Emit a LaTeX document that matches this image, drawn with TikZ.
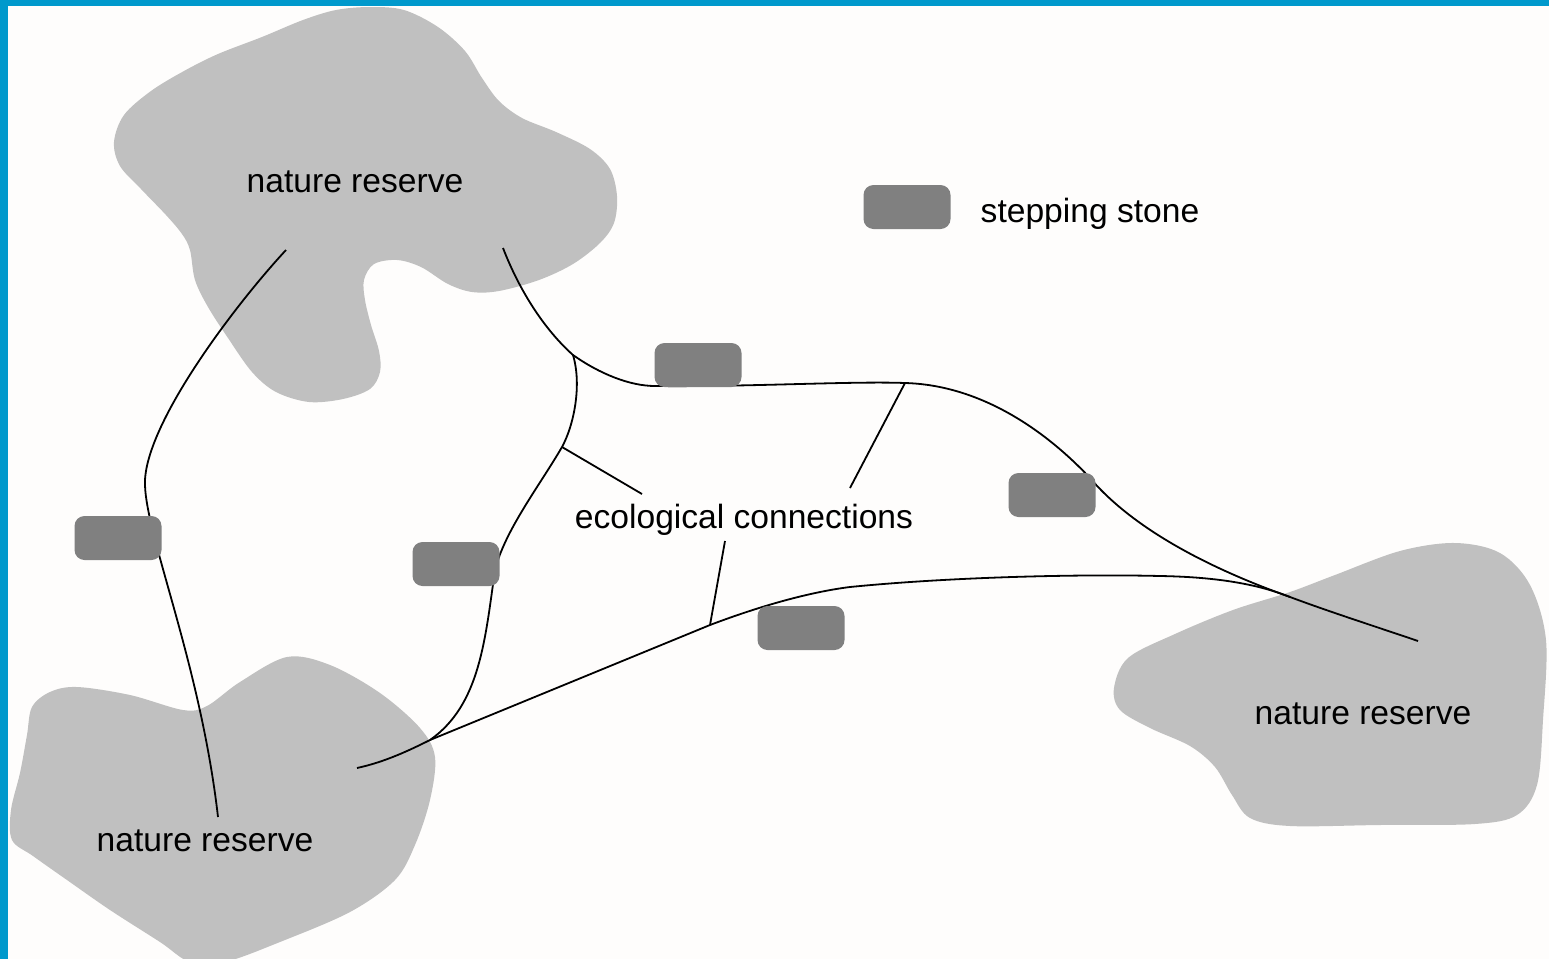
\documentclass[tikz,border=0pt]{standalone}
\usepackage{fontspec}
\setmainfont{Liberation Sans}
\definecolor{bluebar}{HTML}{0099CC}
\definecolor{blobgray}{HTML}{C0C0C0}
\definecolor{stonegray}{HTML}{808080}
\definecolor{paper}{HTML}{FEFDFC}
\begin{document}
\begin{tikzpicture}[x=0.5pt,y=-0.5pt,
  blob/.style={fill=blobgray, draw=none},
  stone/.style={fill=stonegray, draw=none, rounded corners=5pt, minimum width=43.5pt, minimum height=22pt, inner sep=0pt},
  txt/.style={font=\fontsize{16.8}{20}\selectfont, inner sep=0pt, anchor=base},
  conn/.style={draw=black, line width=0.9pt}]
\useasboundingbox (0,0) rectangle (1549,959);
\fill[paper] (0,0) rectangle (1549,959);
\begin{scope}
\clip (0,0) rectangle (1549,959);
% top reserve
\fill[blob] plot[smooth cycle, tension=0.55] coordinates {
 (370,7) (404,10) (438,27) (465,51) (482,78) (499,101) (522,118) (556,132)
 (590,149) (610,169) (617,196) (614,223) (600,243) (573,264) (539,280) (499,291)
 (472,292) (448,284) (421,267) (397,260) (374,264) (364,280) (365,300) (371,325)
 (379,351) (380,372) (370,389) (343,399) (309,402) (276,392) (252,372) (228,338)
 (208,307) (195,280) (190,250) (182,234) (166,215) (141,189) (120,166) (114,142)
 (124,115) (151,91) (184,71) (218,54) (262,37) (303,20) (336,10)};
% bottom-left reserve
\fill[blob] plot[smooth cycle, tension=0.55] coordinates {
 (32,707) (50,692) (77,687) (130,695) (183,710) (207,706) (240,682) (287,657)
 (330,665) (380,693) (420,728) (435,757) (430,800) (415,845) (395,880) (350,912)
 (280,942) (225,962) (190,962) (160,942) (110,910) (67,880) (33,856) (12,840)
 (11,810) (20,773) (27,735)};
% right reserve
\fill[blob] plot[smooth cycle, tension=0.55] coordinates {
 (1114,688) (1128,658) (1175,634) (1233,610) (1290,592) (1335,575) (1400,551)
 (1455,543) (1500,553) (1530,585) (1546,640) (1543,720) (1537,785) (1517,815)
 (1475,824) (1380,825) (1290,826) (1250,818) (1232,795) (1215,767) (1190,746)
 (1150,728) (1120,710)};
\end{scope}
% labels
\node[txt] (nrtop) at (355,192) {nature reserve};
\node[txt] (nrleft) at (205,851) {nature reserve};
\node[txt] (nrright) at (1363,724) {nature reserve};
\node[txt] (legtxt) at (1090,222) {stepping stone};
\node[txt] (eco) at (744,528) {ecological connections};
% coordinates
\coordinate (A0) at (286,250);
\coordinate (A1) at (145,480);
\coordinate (A2) at (218,817);
\coordinate (B0) at (503,248);
\coordinate (Bj) at (573,355);
\coordinate (B1) at (655,386);
\coordinate (B2) at (905,383);
\coordinate (B3) at (1090,478);
\coordinate (B4) at (1290,597);
\coordinate (B5) at (1418,641);
\coordinate (C0) at (357,768);
\coordinate (Cj) at (430,740);
\coordinate (Cg) at (710,625);
\coordinate (C1) at (850,587);
\coordinate (C2) at (1160,576);
\coordinate (De) at (562,447);
\coordinate (Dm) at (495,570);
\coordinate (Ee) at (642,494);
\coordinate (Fe) at (850,488);
\coordinate (Ge) at (725,541);
% connections
\draw[conn] (A0) .. controls (235,305) and (148,420) .. (A1)
            .. controls (143,530) and (200,660) .. (A2);
\draw[conn] (B0) .. controls (520,292) and (545,330) .. (Bj)
            .. controls (600,374) and (630,386) .. (B1)
            .. controls (750,387) and (850,381) .. (B2)
            .. controls (980,385) and (1045,430) .. (B3)
            .. controls (1130,525) and (1200,565) .. (B4)
            .. controls (1330,612) and (1380,628) .. (B5);
\draw[conn] (C0) .. controls (385,762) and (410,750) .. (Cj)
            -- (Cg)
            .. controls (760,606) and (810,592) .. (C1)
            .. controls (950,577) and (1080,574) .. (C2)
            .. controls (1220,577) and (1260,585) .. (B4);
\draw[conn] (Bj) .. controls (582,385) and (574,425) .. (De)
            .. controls (540,485) and (505,530) .. (Dm)
            .. controls (485,640) and (480,705) .. (Cj);
\draw[conn] (De) -- (Ee);
\draw[conn] (B2) -- (Fe);
\draw[conn] (Ge) -- (Cg);
% stepping stones
\node[stone] (s1) at (698,365) {};
\node[stone] (s2) at (1052,495) {};
\node[stone] (s3) at (118,538) {};
\node[stone] (s4) at (456,564) {};
\node[stone] (s5) at (801,628) {};
\node[stone] (leg) at (907,207) {};
% frame bars
\fill[bluebar] (0,0) rectangle (1549,6);
\fill[bluebar] (0,0) rectangle (8,959);
\end{tikzpicture}
\end{document}
